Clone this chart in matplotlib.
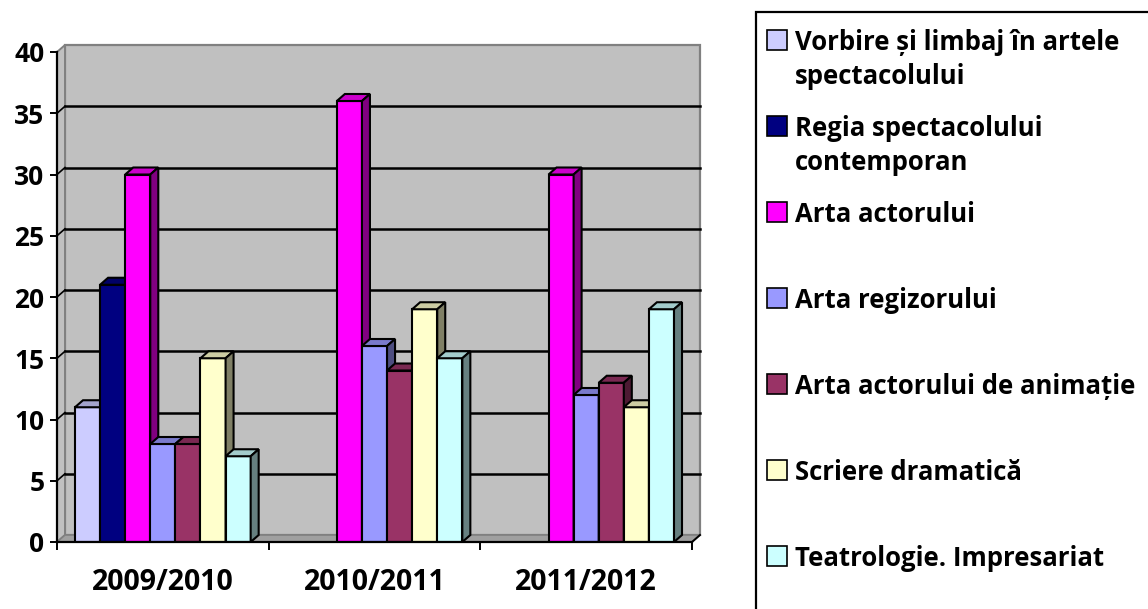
import matplotlib
matplotlib.use("Agg")
import matplotlib.pyplot as plt
from matplotlib.patches import Polygon, Rectangle
from matplotlib.colors import to_rgb

plt.rcParams['font.family'] = ['Open Sans', 'DejaVu Sans']
plt.rcParams['font.weight'] = 'bold'

# Data
years = ["2009/2010", "2010/2011", "2011/2012"]
series = [
    "Vorbire și limbaj în artele\nspectacolului",
    "Regia spectacolului\ncontemporan",
    "Arta actorului",
    "Arta regizorului",
    "Arta actorului de animație",
    "Scriere dramatică",
    "Teatrologie. Impresariat",
]
values = [
    [11, 0, 0],
    [21, 0, 0],
    [30, 36, 30],
    [8, 16, 12],
    [8, 14, 13],
    [15, 19, 11],
    [7, 15, 19],
]
colors = ["#CCCCFF", "#000080", "#FF00FF", "#9999FF", "#993366", "#FFFFCC", "#CCFFFF"]
yticks = [0, 5, 10, 15, 20, 25, 30, 35, 40]

W, H = 1148, 609
fig = plt.figure(figsize=(W / 100, H / 100), dpi=100)

# axes = front plane of the 3D plot (pixels: x 57..692, y 52..542)
ax = fig.add_axes([57 / W, (H - 542) / H, (692 - 57) / W, (542 - 52) / H])
ax.set_xlim(0, len(years))
ax.set_ylim(0, 40)

# depth offset (8px right, 7px up) in data units
px_x = (692 - 57) / len(years)
px_y = (542 - 52) / 40
ddx = 8 / px_x
ddy = 7 / px_y


def shade(c, f):
    r, g, b = to_rgb(c)
    return (r * f, g * f, b * f)


# back wall
ax.add_patch(Rectangle((ddx, ddy), len(years), 40, facecolor="#C0C0C0",
                       edgecolor="#808080", lw=1.6, clip_on=False, zorder=0))
# side wall
ax.add_patch(Polygon([(0, 0), (ddx, ddy), (ddx, 40 + ddy), (0, 40)], closed=True,
                     facecolor="#C0C0C0", edgecolor="#808080", lw=1.4,
                     clip_on=False, zorder=0.5))
# floor
ax.add_patch(Polygon([(0, 0), (len(years), 0), (len(years) + ddx, ddy), (ddx, ddy)],
                     closed=True, facecolor="#A0A0A0", edgecolor="#808080", lw=1.2,
                     clip_on=False, zorder=0.6))
ax.plot([len(years), len(years) + ddx], [0, ddy], color="black", lw=1.4,
        clip_on=False, zorder=0.7)

# gridlines on back wall + side wall
for v in yticks[1:-1]:
    ax.plot([ddx, len(years) + ddx], [v + ddy, v + ddy], color="black", lw=1.8,
            clip_on=False, zorder=1)
    ax.plot([0, ddx], [v, v + ddy], color="black", lw=1.2, clip_on=False, zorder=1)

# bars
n = len(series)
gap = 0.17
w = (1 - gap) / n
z = 2
for j in range(len(years)):
    for i in range(n):
        h = values[i][j]
        if h <= 0:
            continue
        x0 = j + gap / 2 + i * w
        c = colors[i]
        ax.bar(x0, h, width=w, align="edge", color=c, edgecolor="black", lw=1.5,
               zorder=z)
        ax.add_patch(Polygon([(x0, h), (x0 + ddx, h + ddy), (x0 + w + ddx, h + ddy),
                              (x0 + w, h)], closed=True, facecolor=shade(c, 0.8),
                             edgecolor="black", lw=1.5, zorder=z + 0.01, clip_on=False))
        ax.add_patch(Polygon([(x0 + w, 0), (x0 + w + ddx, ddy), (x0 + w + ddx, h + ddy),
                              (x0 + w, h)], closed=True, facecolor=shade(c, 0.5),
                             edgecolor="black", lw=1.5, zorder=z + 0.02, clip_on=False))
        z += 0.1

# axes styling
for s in ["top", "right"]:
    ax.spines[s].set_visible(False)
for s in ["left", "bottom"]:
    ax.spines[s].set_color("black")
    ax.spines[s].set_linewidth(1.6)
    ax.spines[s].set_zorder(z + 1)
ax.set_facecolor("none")
ax.set_yticks(yticks)
ax.tick_params(axis="y", direction="out", length=5, width=1.4, pad=4, labelsize=19)
ax.set_xticks(range(len(years) + 1))
ax.set_xticklabels([])
ax.set_xticks([j + 0.5 for j in range(len(years))], minor=True)
ax.set_xticklabels(years, minor=True, fontsize=20.5, fontweight="bold")
ax.tick_params(axis="x", which="major", direction="out", length=6, width=1.4)
ax.tick_params(axis="x", which="minor", length=0, pad=19)
for t in ax.get_yticklabels():
    t.set_fontweight("bold")

# legend (manual, Excel-like layout)
fig.add_artist(Rectangle((756 / W, -0.1), 0.5, (H - 12) / H + 0.1, transform=fig.transFigure,
                         facecolor="none", edgecolor="black", lw=1.6))
for k, (name, c) in enumerate(zip(series, colors)):
    yc = 40 + k * 86
    fig.add_artist(Rectangle((767 / W, (H - yc - 10) / H), 20 / W, 20 / H,
                             transform=fig.transFigure, facecolor=c,
                             edgecolor="black", lw=1.2))
    for li, line in enumerate(name.split("\n")):
        fig.text(795 / W, (H - yc - 2 - li * 35) / H, line, fontsize=18.5,
                 fontweight="bold", va="center", ha="left")

fig.savefig("out.png", dpi=100)
